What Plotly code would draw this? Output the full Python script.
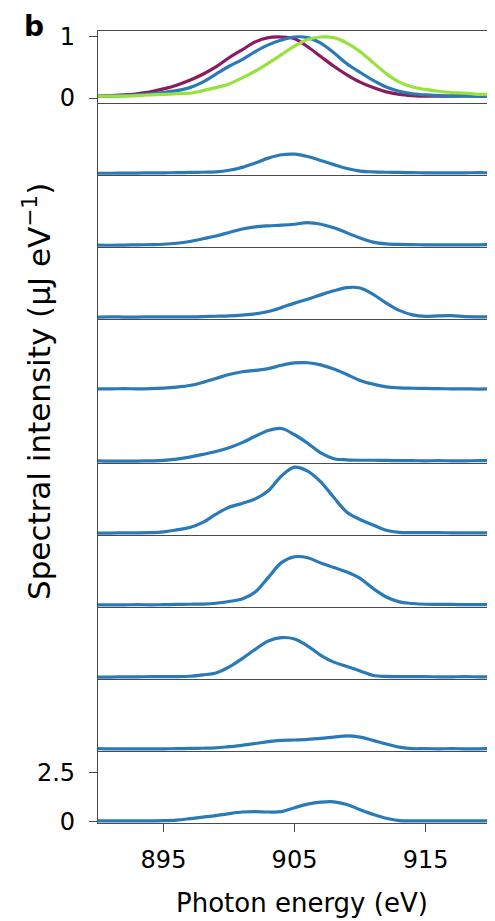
import plotly.graph_objects as go
from plotly.subplots import make_subplots

energy = list(range(890, 921))

# Top panel: normalized spectra
top_purple = [.03, .04, .05, .07, .10, .15, .21, .29, .39, .51, .66, .79, .92, .99, 1.0, .97,
              .84, .68, .52, .38, .26, .17, .10, .06, .04, .03, .03, .03, .04, .03, .03]
top_blue = [.03, .03, .04, .05, .07, .09, .12, .17, .26, .39, .52, .63, .76, .87, .95, 1.0,
            .99, .90, .74, .56, .42, .29, .18, .11, .07, .05, .04, .03, .03, .03, .03]
top_green = [.03, .03, .03, .04, .05, .06, .07, .08, .12, .17, .23, .33, .44, .57, .71, .85,
             .96, 1.0, .99, .90, .76, .58, .40, .26, .18, .14, .11, .09, .08, .06, .06]

# Single-shot spectra (uJ/eV), panels 2..11 top to bottom
shot1 = [.03, .03, .04, .04, .05, .05, .06, .07, .08, .10, .18, .33, .55, .80, .97, 1.0,
         .88, .68, .47, .27, .14, .10, .08, .07, .06, .05, .05, .05, .05, .06, .05]
shot2 = [.04, .03, .04, .05, .06, .08, .13, .22, .36, .50, .68, .86, .97, 1.02, 1.05, 1.10,
         1.18, 1.10, .92, .66, .40, .19, .10, .07, .06, .05, .05, .05, .05, .05, .06]
shot3 = [.04, .05, .04, .04, .05, .05, .05, .05, .06, .08, .10, .14, .20, .32, .52, .75,
         .95, 1.17, 1.38, 1.54, 1.52, 1.20, .75, .38, .15, .07, .10, .11, .06, .05, .05]
shot4 = [.05, .05, .06, .05, .06, .09, .14, .22, .38, .58, .78, .92, .99, 1.08, 1.25, 1.37,
         1.38, 1.27, 1.06, .78, .48, .29, .15, .10, .08, .07, .06, .05, .05, .04, .05]
shot5 = [.05, .04, .04, .04, .05, .07, .14, .24, .38, .53, .72, .98, 1.30, 1.60, 1.70, 1.38,
         .95, .45, .16, .10, .08, .08, .07, .06, .06, .05, .06, .05, .05, .06, .06]
shot6 = [.04, .04, .05, .05, .06, .10, .20, .32, .58, 1.0, 1.35, 1.55, 1.78, 2.20, 2.95, 3.40,
         3.20, 2.65, 1.85, 1.10, .73, .45, .18, .07, .06, .06, .06, .05, .05, .05, .05]
shot7 = [.05, .05, .05, .06, .05, .06, .07, .08, .09, .13, .22, .35, .70, 1.45, 2.20, 2.50,
         2.45, 2.18, 1.95, 1.72, 1.40, .88, .45, .20, .12, .08, .07, .07, .06, .06, .06]
shot8 = [.04, .04, .05, .05, .06, .06, .06, .08, .15, .25, .55, .98, 1.45, 1.88, 2.05, 1.98,
         1.62, 1.15, .80, .58, .35, .12, .07, .06, .06, .06, .05, .05, .06, .05, .05]
shot9 = [.06, .05, .05, .05, .05, .05, .06, .07, .08, .10, .16, .23, .32, .42, .48, .50,
         .53, .58, .65, .71, .65, .48, .30, .14, .06, .06, .05, .06, .05, .05, .06]
shot10 = [.05, .05, .05, .05, .05, .06, .09, .16, .24, .32, .42, .50, .52, .50, .52, .72,
          .90, 1.0, 1.02, .88, .62, .38, .18, .06, .05, .05, .05, .05, .05, .05, .05]

shots = [shot1, shot2, shot3, shot4, shot5, shot6, shot7, shot8, shot9, shot10]

x_ticks = [895, 905, 915]
top_yticks = [0, 1]
bottom_yticks = [0, 2.5]
bottom_ytick_text = ["0", "2.5"]

PURPLE = "#8c1a5e"
BLUE = "#2a7ab8"
GREEN = "#97e23c"
AXIS = "#4a4a4a"
FONT = "DejaVu Sans"

n_rows = 11
fig = make_subplots(rows=n_rows, cols=1, shared_xaxes=True, vertical_spacing=0)

for vals, col in [(top_purple, PURPLE), (top_blue, BLUE), (top_green, GREEN)]:
    fig.add_trace(go.Scatter(x=energy, y=vals, mode="lines",
                             line=dict(color=col, width=3.2, shape="spline"),
                             showlegend=False), row=1, col=1)

for i, s in enumerate(shots):
    fig.add_trace(go.Scatter(x=energy, y=s, mode="lines",
                             line=dict(color=BLUE, width=3.2, shape="spline"),
                             showlegend=False), row=i + 2, col=1)

for r in range(1, n_rows + 1):
    xa = dict(range=[890, 920.3], showline=True, linecolor=AXIS, linewidth=1.3,
              showgrid=False, zeroline=False, row=r, col=1)
    if r == n_rows:
        xa.update(tickmode="array", tickvals=x_ticks, ticks="outside", ticklen=8,
                  tickwidth=1.3, tickcolor=AXIS, showticklabels=True,
                  ticklabelstandoff=7,
                  tickfont=dict(family=FONT, size=24, color="black"))
    else:
        xa.update(ticks="", showticklabels=False)
    if r == 1:
        xa.update(mirror=True)
    fig.update_xaxes(**xa)

    ya = dict(showline=True, linecolor=AXIS, linewidth=1.3, showgrid=False,
              zeroline=False, row=r, col=1)
    if r == 1:
        ya.update(range=[-0.082, 1.098], tickmode="array", tickvals=top_yticks,
                  ticks="outside", ticklen=8, tickwidth=1.3, tickcolor=AXIS,
                  ticklabelstandoff=9,
                  tickfont=dict(family=FONT, size=24, color="black"))
    elif r == n_rows:
        ya.update(range=[-0.06, 3.61], tickmode="array", tickvals=bottom_yticks,
                  ticktext=bottom_ytick_text,
                  ticks="outside", ticklen=8, tickwidth=1.3, tickcolor=AXIS,
                  ticklabelstandoff=9,
                  tickfont=dict(family=FONT, size=24, color="black"))
    else:
        ya.update(range=[-0.06, 3.61], ticks="", showticklabels=False)
    fig.update_yaxes(**ya)

# The page body has an 8px margin, so the figure is placed at (8, 8).
OFF = 8
PAGE_W, PAGE_H = 495, 921
W, H = PAGE_W - OFF, PAGE_H - OFF
L, T, B = 98 - OFF, 31 - OFF, 98
pw = W - L
ph = H - T - B


def px(xp):
    return (xp - OFF - L) / pw


def py(yp):
    return (H - B - (yp - OFF)) / ph


fig.update_layout(
    width=W, height=H,
    margin=dict(l=L, r=0, t=T, b=B),
    plot_bgcolor="white", paper_bgcolor="white",
    font=dict(family=FONT, color="black"),
    annotations=[
        dict(text="<b>b</b>", x=px(34), y=py(26), xref="paper", yref="paper",
             showarrow=False, xanchor="center", yanchor="middle",
             font=dict(family=FONT, size=28, color="black")),
        dict(text="Spectral intensity (μJ eV<sup>−1</sup>)", x=px(37), y=py(392),
             xref="paper", yref="paper", showarrow=False, textangle=-90,
             xanchor="center", yanchor="middle",
             font=dict(family=FONT, size=31, color="black")),
        dict(text="Photon energy (eV)", x=px(302), y=py(903), xref="paper",
             yref="paper", showarrow=False, xanchor="center", yanchor="middle",
             font=dict(family=FONT, size=26, color="black")),
    ],
)

fig.write_html("out.html")
